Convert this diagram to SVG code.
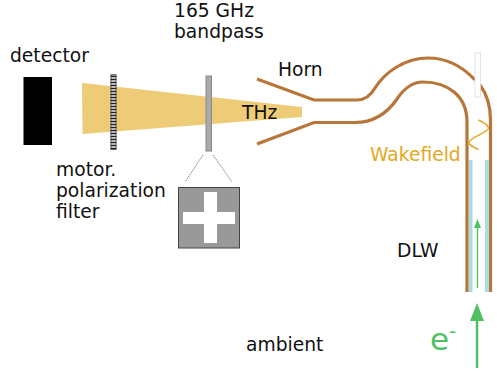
<svg xmlns="http://www.w3.org/2000/svg" width="497" height="373" viewBox="0 0 497 373">
<style>
text{font-family:"DejaVu Sans",sans-serif;font-size:18.700px;fill:#111}
.wall{fill:none;stroke:#b8763a;stroke-width:3.200}
.blue{fill:#a9dbe6}
.green{stroke:#4fc160;fill:none}
.head{fill:#4fc160}
.dot{stroke:#555;stroke-width:.8;stroke-dasharray:1.500 1;fill:none}
</style>
<rect width="497" height="373" fill="#fff"/>
<g id="beam"><polygon points="82,83 302,107 302,117 82.500,134" fill="#eecb77"/></g>
<g id="detector"><rect x="23.500" y="77" width="28.500" height="68" fill="#000"/><text x="10" y="62">detector</text></g>
<g id="polarizer">
<rect x="110.500" y="74" width="6" height="76" fill="#777"/>
<path d="M111.500 75.500H115.500V149H111.500" fill="#eee"/>
<path d="M110.500 76.500H116.500M110.500 79.500H116.500M110.500 82.500H116.500M110.500 85.500H116.500M110.500 88.500H116.500M110.500 91.500H116.500M110.500 94.500H116.500M110.500 97.500H116.500M110.500 100.500H116.500M110.500 103.500H116.500M110.500 106.500H116.500M110.500 109.500H116.500M110.500 112.500H116.500M110.500 115.500H116.500M110.500 118.500H116.500M110.500 121.500H116.500M110.500 124.500H116.500M110.500 127.500H116.500M110.500 130.500H116.500M110.500 133.500H116.500M110.500 136.500H116.500M110.500 139.500H116.500M110.500 142.500H116.500M110.500 145.500H116.500M110.500 148.500H116.500" stroke="#222" stroke-width="1.300"/>
<text x="56" y="176">motor.</text><text x="56" y="197">polarization</text><text x="56" y="218">filter</text>
</g>
<g id="bandpass">
<rect x="206" y="76" width="5.500" height="75" fill="#aaa" stroke="#888"/>
<text x="174" y="17">165 GHz</text><text x="174" y="38">bandpass</text>
</g>
<g id="filter-detail">
<rect x="178.500" y="187.500" width="61" height="60.500" fill="#999" stroke="#444"/>
<path d="M204 192H217V212H235V224H217V243H204V224H183V212H204Z" fill="#fff"/>
</g>
<g id="labels">
<text x="278" y="76">Horn</text>
<text x="242" y="119">THz</text>
<text x="370" y="161" style="fill:#e2a822">Wakefield</text>
<text x="397" y="257">DLW</text>
<text x="246" y="351">ambient</text>
<text x="430" y="350" style="fill:#4fc160;font-size:31px">e<tspan dy="-12" font-size="20">-</tspan></text>
</g>
<g id="connectors">
<path class="dot" d="M203 155L185 182M213 155L232 182"/>
<path class="wall" d="M257 79L314 100H357C366 100 371 95 375 88C385 72 405 58 428 58C448 58 463 67 475 80"/>
<path class="wall" d="M480 85C486 93 490.500 105 490.500 120V292"/>
<path class="wall" d="M257 144L314 122.500H355C375 122.500 388 112 397 99C403 90 412 82 423 82C448 82 467 96 467 122V292"/>
<rect x="475" y="53" width="5.500" height="44" fill="#fff" stroke="#ddd" stroke-width=".8"/>
<path d="M478.500 120C483 122 488 125 488.500 128C488 133 470 137 468.500 143C470 145 475 148 478.500 149.500" fill="none" stroke="#e2a822" stroke-width="1.500"/>
<rect class="blue" x="469" y="160" width="3.500" height="132"/>
<rect class="blue" x="485" y="160" width="4" height="132"/>
<path class="green" stroke-width="1.300" d="M477.500 288V226"/>
<polygon class="head" points="477.500,219 474,228 481,228"/>
<path class="green" stroke-width="2.500" d="M477 368V318"/>
<polygon class="head" points="477,303 470,321 484,321"/>
</g>
</svg>
